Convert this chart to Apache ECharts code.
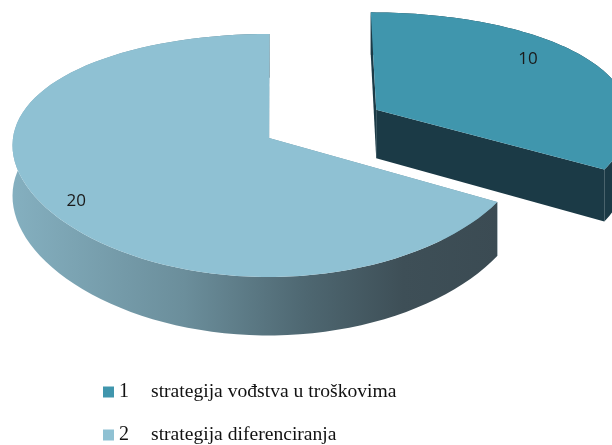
<!DOCTYPE html>
<html>
<head>
<meta charset="utf-8">
<script src="https://cdn.jsdelivr.net/npm/echarts@6/dist/echarts.min.js"></script>
<style>
  html, body { margin: 0; background: #fff; }
  #chart { width: 612px; height: 445px; }
</style>
</head>
<body>
<div id="chart"></div>
<script>
const categories = ['strategija vođstva u troškovima', 'strategija diferenciranja'];
const values = [10, 20];
const legendNumbers = ['1', '2'];
const topColors = ['#4096ad', '#8fc1d3'];
const explode = [0.49, 0];

// fake 3d: tilted disc with a bit of perspective
const P = { cx: 269, cy: 138, rx: 256, ry: 119, ky: 0.144, kx: 0.06, h: 50, vx: 279 };
function proj(U, D, z) {
  const X = P.cx + P.rx * U;
  return [P.vx + (X - P.vx) / (1 - P.kx * D), P.cy + (P.ry * D + P.h * z) / (1 - P.ky * D)];
}

const total = values.reduce((a, b) => a + b, 0);
const slices = [];
let acc = 0;
values.forEach(v => {
  const a0 = 90 - acc / total * 360;
  acc += v;
  const a1 = 90 - acc / total * 360;
  slices.push({ a0, a1 });
});

function point(i, deg, r, z) {
  const s = slices[i];
  const mid = (s.a0 + s.a1) / 2 * Math.PI / 180;
  const ox = explode[i] * Math.cos(mid), oy = explode[i] * Math.sin(mid);
  const t = deg * Math.PI / 180;
  const U = ox + r * Math.cos(t);
  const W = oy + r * Math.sin(t);
  return proj(U, -W, z);
}

function arc(i, z) {
  const s = slices[i];
  const pts = [];
  const n = 90;
  for (let j = 0; j <= n; j++) {
    pts.push(point(i, s.a0 + (s.a1 - s.a0) * j / n, 1, z));
  }
  return pts;
}

const wallFill = [
  '#1b3a46',
  new echarts.graphic.LinearGradient(15, 0, 500, 0, [
    { offset: 0, color: '#84afbf' },
    { offset: 0.35, color: '#6b8e9b' },
    { offset: 0.6, color: '#4e6771' },
    { offset: 0.8, color: '#3e4f57' },
    { offset: 1, color: '#3b4b53' }
  ], true)
];
const radialFill = ['#1b3a46', '#6f97a6'];
// label placement: angle shift from slice middle, radius
const labelShift = [8, 4];
const labelRadius = [0.8, 0.88];

function renderSlice(params, api) {
  const i = params.seriesIndex;
  const s = slices[i];
  const top = arc(i, 0);
  const bottom = arc(i, 1).reverse();
  const apex0 = point(i, 0, 0, 0), apex1 = point(i, 0, 0, 1);
  const children = [];
  [s.a0, s.a1].forEach(a => {
    children.push({
      type: 'polygon',
      shape: { points: [apex0, point(i, a, 1, 0), point(i, a, 1, 1), apex1] },
      style: { fill: radialFill[i] }
    });
  });
  children.push({ type: 'polygon', shape: { points: top.concat(bottom) }, style: { fill: wallFill[i] } });
  children.push({ type: 'polygon', shape: { points: [apex0].concat(top) }, style: { fill: topColors[i] } });
  const mid = (s.a0 + s.a1) / 2;
  const lp = point(i, mid + labelShift[i], labelRadius[i], 0);
  children.push({
    type: 'text',
    style: {
      text: String(api.value(0)), x: lp[0], y: lp[1],
      fill: '#1a1a1a', font: '17px "Open Sans"', align: 'center', verticalAlign: 'middle'
    }
  });
  return { type: 'group', children };
}

const legendTop = [377, 420];
const chart = echarts.init(document.getElementById('chart'));
chart.setOption({
  animation: false,
  legend: categories.map((name, i) => ({
    left: 98,
    top: legendTop[i],
    icon: 'rect',
    itemWidth: 11,
    itemHeight: 11,
    selectedMode: false,
    data: [name],
    formatter: n => '{n|' + legendNumbers[i] + '}{t|' + n + '}',
    textStyle: {
      color: '#111',
      rich: {
        n: { width: 32, fontSize: 20, lineHeight: 22, fontFamily: 'Liberation Serif', color: '#111' },
        t: { fontSize: 19.6, lineHeight: 22, fontFamily: 'Liberation Serif', color: '#111' }
      }
    }
  })),
  series: categories.map((name, i) => ({
    type: 'custom',
    name: name,
    coordinateSystem: 'none',
    renderItem: renderSlice,
    itemStyle: { color: topColors[i] },
    data: [values[i]]
  }))
});
</script>
</body>
</html>
